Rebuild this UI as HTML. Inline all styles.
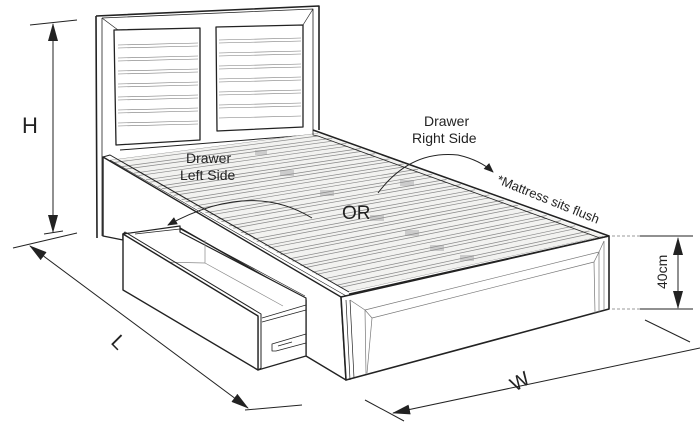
<!DOCTYPE html>
<html><head><style>
html,body{margin:0;padding:0;background:#fff;width:700px;height:434px;overflow:hidden}
text{font-family:"Liberation Sans",sans-serif;fill:#222}
</style></head><body>
<svg width="700" height="434" viewBox="0 0 700 434" xmlns="http://www.w3.org/2000/svg">
<defs>
<marker id="ar" markerWidth="10" markerHeight="8" refX="9" refY="4" orient="auto" markerUnits="userSpaceOnUse"><path d="M0,0L10,4L0,8z" fill="#222"/></marker>
<marker id="ab" markerWidth="18" markerHeight="10" refX="17" refY="5" orient="auto" markerUnits="userSpaceOnUse"><path d="M0,0L18,5L0,10z" fill="#222"/></marker>
<marker id="abs" markerWidth="18" markerHeight="10" refX="1" refY="5" orient="auto" markerUnits="userSpaceOnUse"><path d="M18,0L0,5L18,10z" fill="#222"/></marker>
<clipPath id="bed"><path d="M110,160 L318,133 L604,236 L348,292 Z"/></clipPath>
</defs>
<g fill="none" stroke="#222" stroke-linejoin="round">
<path d="M96,16 L319,6 L319,130 M96,16 L97,238" stroke-width="1.6"/>
<path d="M102,18 L102,236 M102,18 L313,9 L313,130" stroke-width="0.8"/>
<path d="M102,18 L118,30 M313,9 L303,25" stroke-width="0.7"/>
<path d="M114,30 L200,28 L200,140 L116,145 Z" stroke-width="1.3"/>
<path d="M216,27 L303,25 L303,127 L217,131 Z" stroke-width="1.3"/>
<path d="M120,150 L310,135" stroke-width="1"/>
</g>
<g stroke="#777" stroke-width="0.6">
<line x1="118" y1="45" x2="198" y2="43"/><line x1="118" y1="48" x2="198" y2="46"/>
<line x1="118" y1="58" x2="198" y2="56"/><line x1="118" y1="61" x2="198" y2="59"/>
<line x1="118" y1="71" x2="198" y2="69"/><line x1="118" y1="74" x2="198" y2="72"/>
<line x1="118" y1="84" x2="198" y2="82"/><line x1="118" y1="87" x2="198" y2="85"/>
<line x1="118" y1="97" x2="198" y2="95"/><line x1="118" y1="100" x2="198" y2="98"/>
<line x1="118" y1="110" x2="198" y2="108"/><line x1="118" y1="113" x2="198" y2="111"/>
<line x1="118" y1="123" x2="198" y2="121"/><line x1="118" y1="126" x2="198" y2="124"/>
<line x1="219" y1="40" x2="301" y2="38"/><line x1="219" y1="43" x2="301" y2="41"/>
<line x1="219" y1="53" x2="301" y2="51"/><line x1="219" y1="56" x2="301" y2="54"/>
<line x1="219" y1="66" x2="301" y2="64"/><line x1="219" y1="69" x2="301" y2="67"/>
<line x1="219" y1="79" x2="301" y2="77"/><line x1="219" y1="82" x2="301" y2="80"/>
<line x1="219" y1="92" x2="301" y2="90"/><line x1="219" y1="95" x2="301" y2="93"/>
<line x1="219" y1="105" x2="301" y2="103"/><line x1="219" y1="108" x2="301" y2="106"/>
<line x1="219" y1="118" x2="301" y2="116"/>
</g>
<g clip-path="url(#bed)">
<rect x="100" y="120" width="520" height="180" fill="#f2f2f0"/>
<g fill="#ccc">
<rect x="255" y="150" width="12" height="5"/><rect x="280" y="170" width="14" height="6"/><rect x="320" y="190" width="14" height="6"/>
<rect x="370" y="215" width="14" height="6"/><rect x="405" y="230" width="14" height="6"/><rect x="430" y="245" width="14" height="6"/>
<rect x="460" y="255" width="14" height="6"/><rect x="400" y="180" width="14" height="6"/>
</g>
<path fill="none" stroke="#888" stroke-width="0.7" d="
M110,160L318,133M110,163L318,136
M121.9,166.6L332.3,138.2M121.9,169.6L332.3,141.2
M133.8,173.2L346.6,143.3M133.8,176.2L346.6,146.3
M145.7,179.8L360.9,148.5M145.7,182.8L360.9,151.5
M157.6,186.4L375.2,153.6M157.6,189.4L375.2,156.6
M169.5,193L389.5,158.8M169.5,196L389.5,161.8
M181.4,199.6L403.8,163.9M181.4,202.6L403.8,166.9
M193.3,206.2L418.1,169.1M193.3,209.2L418.1,172.1
M205.2,212.8L432.4,174.2M205.2,215.8L432.4,177.2
M217.1,219.4L446.7,179.4M217.1,222.4L446.7,182.4
M229,226L461,184.5M229,229L461,187.5
M240.9,232.6L475.3,189.7M240.9,235.6L475.3,192.7
M252.8,239.2L489.6,194.8M252.8,242.2L489.6,197.8
M264.7,245.8L503.9,200M264.7,248.8L503.9,203
M276.6,252.4L518.2,205.1M276.6,255.4L518.2,208.1
M288.5,259L532.5,210.3M288.5,262L532.5,213.3
M300.4,265.6L546.8,215.4M300.4,268.6L546.8,218.4
M312.3,272.2L561.1,220.6M312.3,275.2L561.1,223.6
M324.2,278.8L575.4,225.7M324.2,281.8L575.4,228.7
M336.1,285.4L589.7,230.9M336.1,288.4L589.7,233.9
M348,292L604,236"/>
</g>
<g fill="none" stroke="#222" stroke-linejoin="round">
<path d="M313,130 L609,236" stroke-width="1.6"/>
<path d="M318,136 L600,238" stroke-width="0.8"/>
<path d="M313,130 L313,135 L318,136" stroke-width="0.8"/>
<path fill="#fff" d="M103,157 L341,297 L346,380 L306,356 L306,300 L180,228 L123,234 L123,240 L103,236 Z" stroke-width="1.4"/>
<path d="M103,157 L110,155 L349,292" stroke-width="1"/>
<path d="M110,160 L348,297" stroke-width="0.6"/>
<path fill="#fff" d="M341,297 L609,236 L609,309 L346,380 Z" stroke-width="1.6"/>
<path d="M349,294 L609,236" stroke-width="1.3"/>
<path d="M346,300 L350,380 M350,300 L354,378" stroke-width="0.7"/>
<path d="M350,300 L365,310 L599,252 L604,241" stroke="#777" stroke-width="0.7"/>
<path d="M365,310 L366,374 M599,252 L599,312 M365,310 L372,318 L367,373" stroke="#777" stroke-width="0.7"/>
<path d="M372,318 L594,262 L595,313 M594,262 L599,252" stroke="#777" stroke-width="0.7"/>
<path d="M604,241 L604,310" stroke="#777" stroke-width="0.7"/>
<path fill="#fff" d="M123,234 L180,226 L180,232 L306,298 L306,356 L258,370 L258,316 Z" stroke-width="1.2"/>
<path d="M135,234 L180,229 L305,296" stroke-width="0.7"/>
<path d="M205,240 L205,263 L283,306" stroke="#888" stroke-width="0.7"/>
<path d="M160,262 L205,263" stroke="#888" stroke-width="0.7"/>
<path d="M262,318 L306,305 M262,322 L306,310" stroke-width="0.7"/>
<path d="M272,344 L306,334 L306,343 L276,351 L272,351 Z M278,346 L292,342" stroke-width="0.8"/>
<path fill="#fff" d="M123,234 L258,316 L258,370 L123,290 Z" stroke-width="1.4"/>
<path d="M123,234 L125,232 L261,314 L261,368 L258,370" stroke-width="1"/>
<path d="M312,218 Q250,180 168,225" stroke-width="1" marker-end="url(#ar)"/>
<path d="M378,193 Q410,150 458,155 Q480,160 493,172" stroke-width="1" marker-end="url(#ar)"/>
<path d="M30,25 L77,20 M44,234 L63,231 M13,248 L77,233 M245,410 L302,405 M365,400 L404,421 M645,320 L690,342" stroke-width="1"/>
<path d="M53,24 L53,232" stroke-width="1" marker-start="url(#abs)" marker-end="url(#ab)"/>
<path d="M30,246 L248,408" stroke-width="1" marker-start="url(#abs)" marker-end="url(#ab)"/>
<path d="M393,413 L700,348" stroke-width="1" marker-start="url(#abs)"/>
<path d="M678,238 L678,308" stroke-width="1" marker-start="url(#abs)" marker-end="url(#ab)"/>
<path d="M640,236 L693,236 M640,309 L693,309" stroke-width="1"/>
<path d="M612,236 L640,236 M612,309 L640,309" stroke="#999" stroke-width="1" stroke-dasharray="3,2"/>
</g>
<text x="22" y="133" font-size="22">H</text>
<text x="0" y="0" font-size="20" transform="translate(110,343) rotate(45)">L</text>
<text x="0" y="0" font-size="20" transform="translate(515,392) rotate(-30)">W</text>
<text x="186" y="163" font-size="14">Drawer</text>
<text x="180" y="180" font-size="14">Left Side</text>
<text x="424" y="126" font-size="14">Drawer</text>
<text x="412" y="143" font-size="14">Right Side</text>
<text x="342" y="219" font-size="19">OR</text>
<text x="0" y="0" font-size="13" transform="translate(496,183) rotate(22)">*Mattress sits flush</text>
<text x="0" y="0" font-size="14" transform="translate(667,289) rotate(-90)">40cm</text>
</svg>
</body></html>
